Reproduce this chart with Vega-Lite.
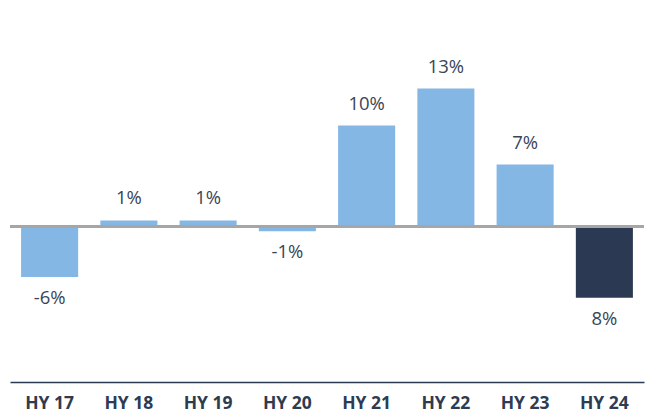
{
  "$schema": "https://vega.github.io/schema/vega-lite/v6.json",
  "autosize": "none",
  "width": 634,
  "height": 374,
  "padding": {"left": 10, "top": 8, "right": 5, "bottom": 36},
  "background": "white",
  "config": {"view": {"stroke": null}, "font": "Open Sans"},
  "data": {"values": [
    {"period": "HY 17", "value": -4.9, "label": "-6%", "highlight": "no"},
    {"period": "HY 18", "value": 0.55, "label": "1%", "highlight": "no"},
    {"period": "HY 19", "value": 0.55, "label": "1%", "highlight": "no"},
    {"period": "HY 20", "value": -0.5, "label": "-1%", "highlight": "no"},
    {"period": "HY 21", "value": 9.68, "label": "10%", "highlight": "no"},
    {"period": "HY 22", "value": 13.24, "label": "13%", "highlight": "no"},
    {"period": "HY 23", "value": 5.93, "label": "7%", "highlight": "no"},
    {"period": "HY 24", "value": -6.9, "label": "8%", "highlight": "yes"}
  ]},
  "encoding": {
    "x": {"field": "period", "type": "nominal", "sort": null,
      "scale": {"paddingInner": 0.28, "paddingOuter": 0.14},
      "axis": {"title": null, "labelAngle": 0, "ticks": false, "domainColor": "#2b3a52", "domainWidth": 1.5,
        "labelFont": "Open Sans", "labelFontSize": 17.5, "labelFontWeight": "bold", "labelColor": "#2e3b50", "labelPadding": 12}},
    "y": {"field": "value", "type": "quantitative", "scale": {"domain": [-15, 21], "nice": false, "zero": false}, "axis": null}
  },
  "layer": [
    {"mark": {"type": "bar"},
     "encoding": {"color": {"field": "highlight", "type": "nominal", "scale": {"domain": ["no", "yes"], "range": ["#85b7e5", "#2b3a52"]}, "legend": null}}},
    {"mark": {"type": "rule", "color": "#a6a6a6", "strokeWidth": 2.5},
     "encoding": {"y": {"datum": 0}, "x": null}},
    {"transform": [{"filter": "datum.value >= 0"}],
     "mark": {"type": "text", "baseline": "alphabetic", "dy": -16, "fontSize": 18.5, "color": "#3a4556", "font": "Open Sans"},
     "encoding": {"text": {"field": "label"}}},
    {"transform": [{"filter": "datum.value < 0"}],
     "mark": {"type": "text", "baseline": "alphabetic", "dy": 27, "fontSize": 18.5, "color": "#3a4556", "font": "Open Sans"},
     "encoding": {"text": {"field": "label"}}}
  ]
}
